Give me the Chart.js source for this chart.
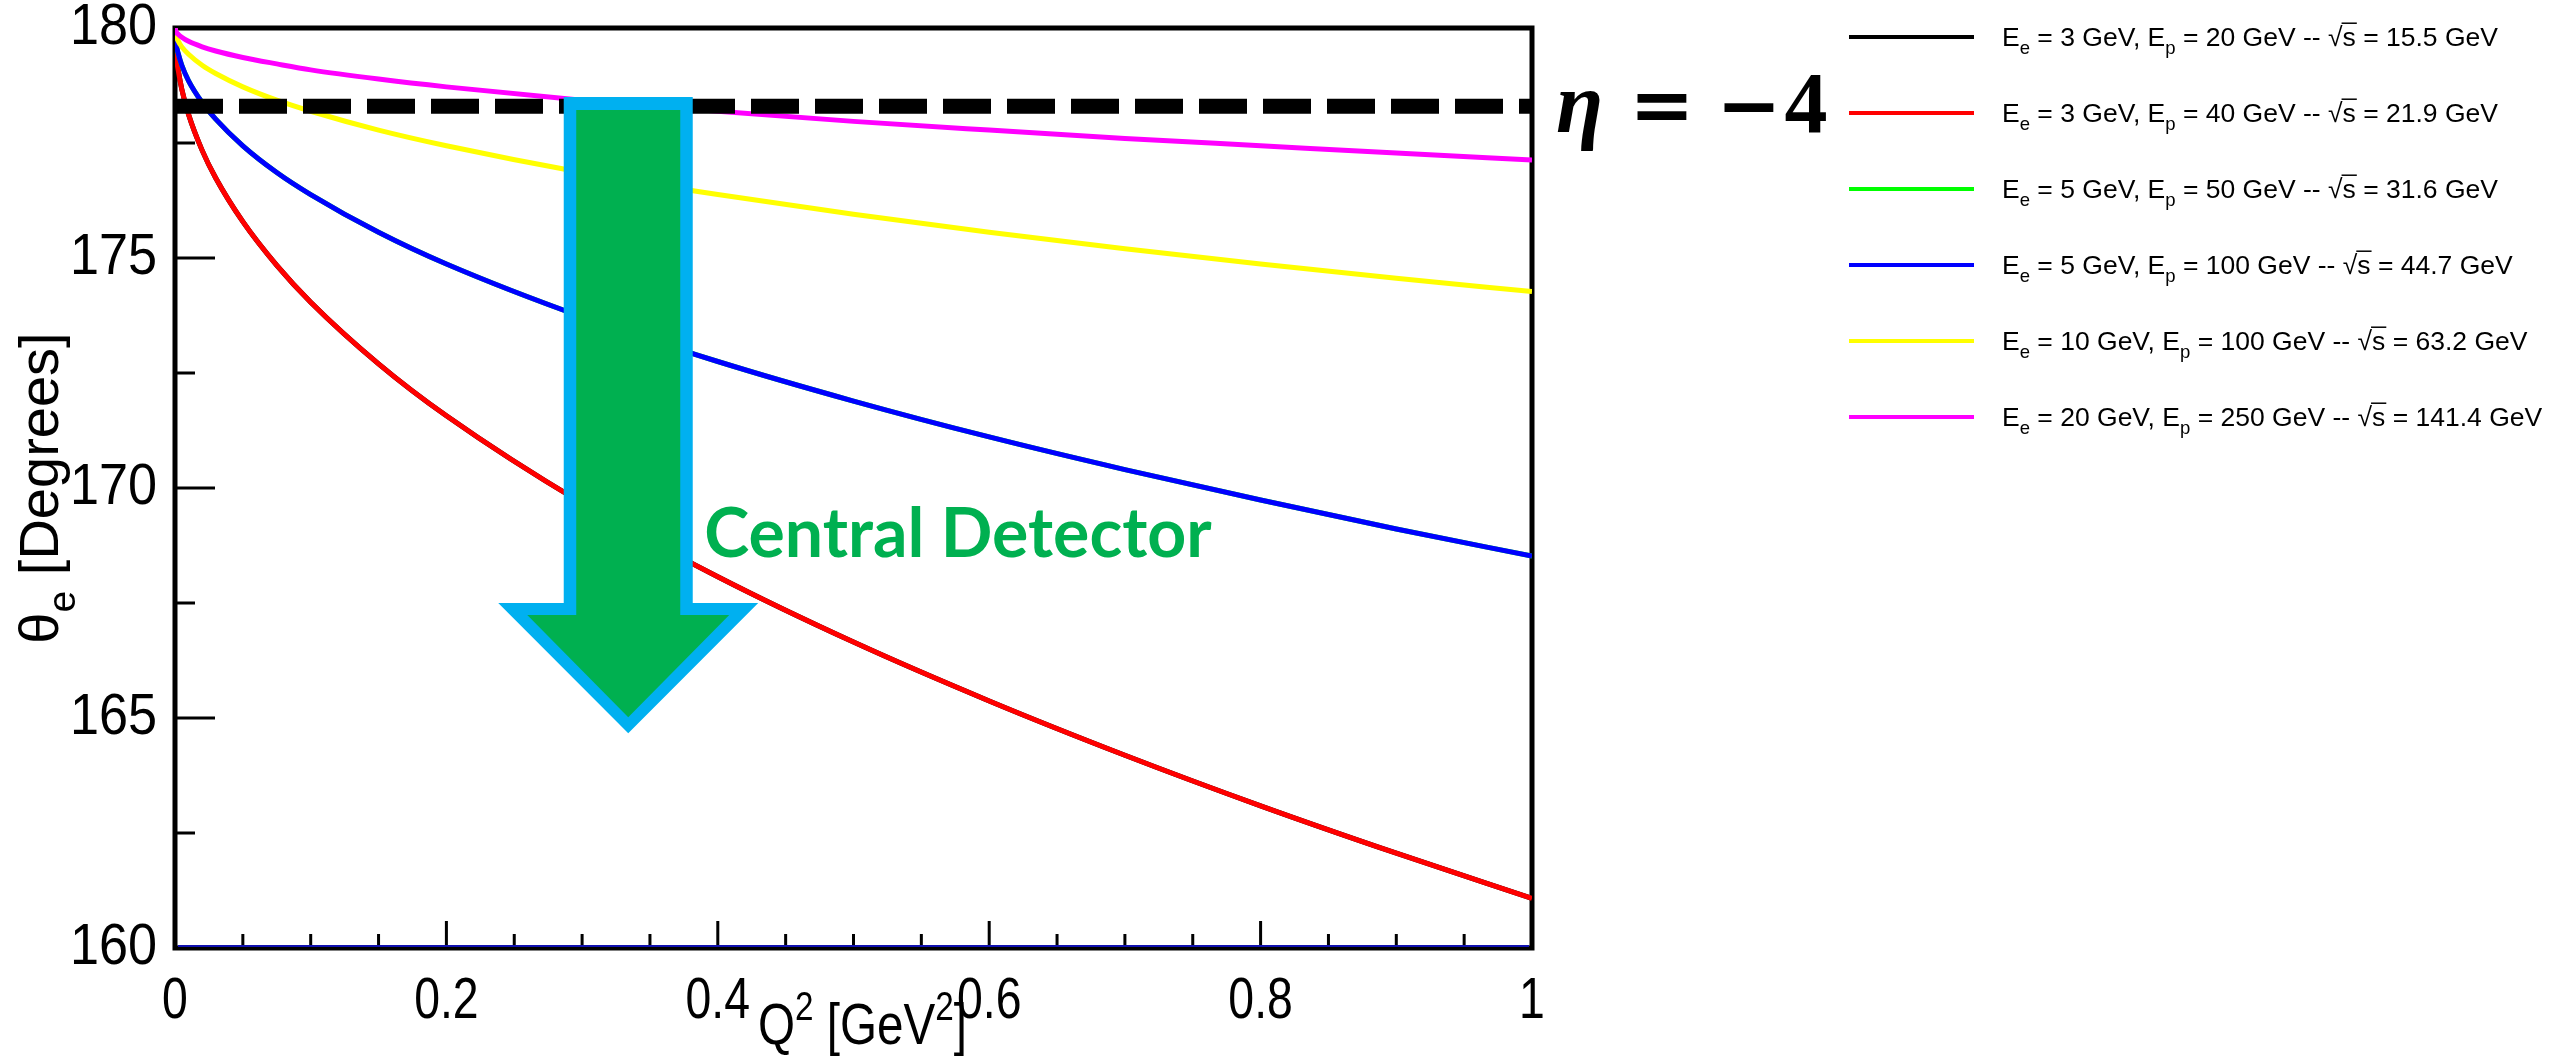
<!DOCTYPE html>
<html>
<head>
<meta charset="utf-8">
<title>Electron scattering angle vs Q2</title>
<script src="https://cdn.jsdelivr.net/npm/chart.js@4.4.1/dist/chart.umd.min.js"></script>
<style>
  html, body { margin: 0; padding: 0; background: #fff; }
  #wrap { width: 2552px; height: 1058px; position: relative; }
</style>
</head>
<body>
<div id="wrap"><canvas id="thetaChart"></canvas></div>
<script>
// Q^2 sample points [GeV^2]
const q2 = [0, 0.001, 0.0025, 0.005, 0.01, 0.02, 0.03, 0.05, 0.075, 0.1, 0.15, 0.2, 0.3, 0.4, 0.5, 0.6, 0.7, 0.8, 0.9, 1.0];

// theta_e [deg] (black sits under red, green under blue)
const thetaBlack   = [180, 179.40, 179.06, 178.67, 178.12, 177.34, 176.74, 175.79, 174.84, 174.04, 172.70, 171.57, 169.67, 168.07, 166.65, 165.37, 164.19, 163.09, 162.06, 161.08];
const thetaRed     = [180, 179.40, 179.06, 178.67, 178.12, 177.34, 176.74, 175.79, 174.84, 174.04, 172.70, 171.57, 169.67, 168.07, 166.65, 165.37, 164.19, 163.09, 162.06, 161.08];
const thetaGreen   = [180, 179.64, 179.43, 179.19, 178.85, 178.38, 178.02, 177.44, 176.86, 176.38, 175.56, 174.87, 173.72, 172.75, 171.89, 171.11, 170.40, 169.74, 169.11, 168.52];
const thetaBlue    = [180, 179.64, 179.43, 179.19, 178.85, 178.38, 178.02, 177.44, 176.86, 176.38, 175.56, 174.87, 173.72, 172.75, 171.89, 171.11, 170.40, 169.74, 169.11, 168.52];
const thetaYellow  = [180, 179.82, 179.71, 179.59, 179.43, 179.19, 179.01, 178.72, 178.43, 178.19, 177.78, 177.44, 176.86, 176.38, 175.95, 175.56, 175.20, 174.87, 174.56, 174.27];
const thetaMagenta = [180, 179.91, 179.86, 179.80, 179.71, 179.59, 179.50, 179.36, 179.22, 179.09, 178.89, 178.72, 178.43, 178.19, 177.97, 177.78, 177.60, 177.44, 177.28, 177.13];

// beam settings for the legend
const beamE = [3, 3, 5, 5, 10, 20];
const beamP = [20, 40, 50, 100, 100, 250];
const sqrtS = ['15.5', '21.9', '31.6', '44.7', '63.2', '141.4'];
const lineColors = ['#000000', '#ff0000', '#00ff00', '#0000ff', '#ffff00', '#ff00ff'];

const xTickLabels = ['0', '0.2', '0.4', '0.6', '0.8', '1'];
const yTickLabels = ['160', '165', '170', '175', '180'];

// eta = -4 cut line and the "Central Detector" arrow (data coords)
const etaCut = 178.3;
const arrowX = 0.334;
const arrowTop = 178.5;
const arrowHeadBase = 167.5;
const arrowTip = 164.67;
const centralLabelX = 0.39;
const centralLabelY = 168.5;

const seriesList = [thetaBlack, thetaRed, thetaGreen, thetaBlue, thetaYellow, thetaMagenta];

function toPoints(ys) {
    return q2.map((x, i) => ({ x: x, y: ys[i] }));
}

// draws text pieces with sub/superscripts, returns total width
function richText(ctx, parts, x, y, size, family, draw) {
    let cx = x;
    parts.forEach(p => {
        const mode = p[1] || '';
        const s = (mode === 'sub' || mode === 'sup') ? size * 0.7 : size;
        ctx.font = s + 'px ' + family;
        let dy = 0;
        if (mode === 'sub') dy = size * 0.3;
        if (mode === 'sup') dy = -size * 0.42;
        const w = ctx.measureText(p[0]).width;
        if (draw) {
            ctx.fillText(p[0], cx, y + dy);
            if (mode === 'over') {
                ctx.lineWidth = 1.5;
                ctx.beginPath();
                ctx.moveTo(cx - 1, y - size * 0.86);
                ctx.lineTo(cx + w + 1, y - size * 0.86);
                ctx.stroke();
            }
        }
        cx += w;
    });
    return cx - x;
}

// condensed text: scale horizontally, anchor 'left' | 'center' | 'right'
function squeezedText(ctx, text, x, y, sx, anchor) {
    const w = ctx.measureText(text).width * sx;
    let x0 = x;
    if (anchor === 'center') x0 = x - w / 2;
    if (anchor === 'right') x0 = x - w;
    ctx.save();
    ctx.translate(x0, y);
    ctx.scale(sx, 1);
    ctx.fillText(text, 0, 0);
    ctx.restore();
}

const sansFam = '"Liberation Sans", Arial, sans-serif';

const overlay = {
    id: 'overlay',
    beforeDatasetsDraw(chart) {
        const { ctx, chartArea: a, scales: { x, y } } = chart;
        ctx.save();
        ctx.strokeStyle = '#000';
        ctx.lineWidth = 3;
        ctx.beginPath();
        // y ticks, drawn inside the frame
        for (let v = 160; v <= 180; v += 2.5) {
            const py = y.getPixelForValue(v);
            const len = (v % 5 === 0) ? 40 : 20;
            ctx.moveTo(a.left, py);
            ctx.lineTo(a.left + len, py);
        }
        // x ticks
        for (let k = 1; k < 20; k++) {
            const px = x.getPixelForValue(k * 0.05);
            const len = (k % 4 === 0) ? 27 : 14;
            ctx.moveTo(px, a.bottom);
            ctx.lineTo(px, a.bottom - len);
        }
        ctx.stroke();
        ctx.lineWidth = 5;
        ctx.strokeRect(a.left, a.top, a.right - a.left, a.bottom - a.top);
        ctx.strokeStyle = '#1010b0';
        ctx.lineWidth = 2;
        ctx.beginPath();
        ctx.moveTo(a.left + 3, a.bottom - 2);
        ctx.lineTo(a.right - 3, a.bottom - 2);
        ctx.stroke();
        ctx.restore();
    },
    afterDatasetsDraw(chart) {
        const { ctx, chartArea: a, scales: { x, y } } = chart;
        ctx.save();
        // arrow
        const cx = x.getPixelForValue(arrowX);
        const top = y.getPixelForValue(arrowTop);
        const base = y.getPixelForValue(arrowHeadBase);
        const tip = y.getPixelForValue(arrowTip);
        const outer = [[cx - 64.5, top], [cx + 64.5, top], [cx + 64.5, base], [cx + 130, base], [cx, tip], [cx - 130, base], [cx - 64.5, base]];
        const inner = [[cx - 52, top + 13], [cx + 52, top + 13], [cx + 52, base + 12], [cx + 101, base + 12], [cx, tip - 16], [cx - 101, base + 12], [cx - 52, base + 12]];
        [[outer, '#00b0f0'], [inner, '#00b050']].forEach(shape => {
            ctx.fillStyle = shape[1];
            ctx.beginPath();
            shape[0].forEach((pt, i) => i ? ctx.lineTo(pt[0], pt[1]) : ctx.moveTo(pt[0], pt[1]));
            ctx.closePath();
            ctx.fill();
        });

        ctx.fillStyle = '#00b050';
        ctx.font = 'bold 68px Lato, "Open Sans", sans-serif';
        ctx.textBaseline = 'alphabetic';
        ctx.textAlign = 'left';
        ctx.fillText('Central Detector', x.getPixelForValue(centralLabelX), y.getPixelForValue(centralLabelY));

        // eta = -4 label, right of the frame
        const ey = y.getPixelForValue(etaCut) + 26;
        ctx.fillStyle = '#000';
        ctx.font = 'italic bold 86px "Liberation Serif", "DejaVu Serif", serif';
        ctx.fillText('\u03b7', a.right + 24, ey);
        ctx.textAlign = 'center';
        ctx.font = 'bold 78px "DejaVu Serif", serif';
        ctx.fillText('=', a.right + 130, ey);
        ctx.fillText('\u2212', a.right + 217, ey);
        ctx.font = 'bold 86px "Liberation Serif", "DejaVu Serif", serif';
        ctx.fillText('4', a.right + 274, ey);
        ctx.restore();
    },
    afterDraw(chart) {
        const { ctx, chartArea: a, scales: { x, y } } = chart;
        ctx.save();
        ctx.fillStyle = '#000';
        ctx.strokeStyle = '#000';
        ctx.textAlign = 'left';

        // tick labels, condensed like the original
        ctx.textBaseline = 'middle';
        ctx.font = '58px ' + sansFam;
        y.ticks.forEach(t => {
            const label = yTickLabels[Math.round((t.value - 160) / 5)];
            squeezedText(ctx, label, a.left - 18, y.getPixelForValue(t.value), 0.9, 'right');
        });
        ctx.textBaseline = 'alphabetic';
        x.ticks.forEach(t => {
            const label = xTickLabels[Math.round(t.value / 0.2)];
            squeezedText(ctx, label, x.getPixelForValue(t.value), 1018, 0.8, 'center');
        });

        // legend
        for (let i = 0; i < seriesList.length; i++) {
            const ly = 37 + i * 76;
            ctx.strokeStyle = lineColors[i];
            ctx.lineWidth = 4;
            ctx.beginPath();
            ctx.moveTo(1849, ly);
            ctx.lineTo(1974, ly);
            ctx.stroke();
            ctx.strokeStyle = '#000';
            const parts = [['E'], ['e', 'sub'], [' = ' + beamE[i] + ' GeV, E'], ['p', 'sub'],
                [' = ' + beamP[i] + ' GeV -- \u221a'], ['s', 'over'], [' = ' + sqrtS[i] + ' GeV']];
            richText(ctx, parts, 2002, ly + 9, 26.5, sansFam, true);
        }

        // y axis title
        const yParts = [['\u03b8'], ['e', 'sub'], [' [Degrees]']];
        const yw = richText(ctx, yParts, 0, 0, 56, sansFam, false);
        ctx.save();
        ctx.translate(58, (a.top + a.bottom) / 2);
        ctx.rotate(-Math.PI / 2);
        richText(ctx, yParts, -yw / 2, 0, 56, sansFam, true);
        ctx.restore();

        // x axis title, condensed
        const xParts = [['Q'], ['2', 'sup'], [' [GeV'], ['2', 'sup'], [']']];
        const xw = richText(ctx, xParts, 0, 0, 58, sansFam, false) * 0.82;
        ctx.save();
        ctx.translate((a.left + a.right) / 2 + 9 - xw / 2, 1044);
        ctx.scale(0.82, 1);
        richText(ctx, xParts, 0, 0, 58, sansFam, true);
        ctx.restore();
        ctx.restore();
    }
};

const datasets = seriesList.map((ys, i) => ({
    label: 'Ee = ' + beamE[i] + ' GeV, Ep = ' + beamP[i] + ' GeV',
    data: toPoints(ys),
    borderColor: lineColors[i],
    backgroundColor: lineColors[i],
    borderWidth: 5,
    pointRadius: 0,
    cubicInterpolationMode: 'monotone',
    fill: false,
    order: 10 - i
}));
datasets.push({
    label: 'eta = -4',
    data: [{ x: 0, y: etaCut }, { x: 1, y: etaCut }],
    borderColor: '#000',
    borderWidth: 15,
    borderDash: [48, 16],
    borderCapStyle: 'butt',
    pointRadius: 0,
    fill: false,
    order: 0
});

new Chart(document.getElementById('thetaChart'), {
    type: 'line',
    data: { datasets: datasets },
    options: {
        responsive: true,
        maintainAspectRatio: false,
        animation: false,
        devicePixelRatio: 1,
        layout: { padding: { left: 0, top: 28, right: 1020, bottom: 0 } },
        plugins: {
            legend: { display: false },
            tooltip: { enabled: false }
        },
        scales: {
            x: {
                type: 'linear',
                min: 0,
                max: 1,
                grid: { display: false, drawTicks: false },
                border: { display: false },
                ticks: { stepSize: 0.2, display: false },
                afterFit: function(scale) { scale.height = 110; }
            },
            y: {
                min: 160,
                max: 180,
                grid: { display: false, drawTicks: false },
                border: { display: false },
                ticks: { stepSize: 5, display: false },
                afterFit: function(scale) { scale.width = 175; }
            }
        }
    },
    plugins: [overlay]
});
</script>
</body>
</html>
